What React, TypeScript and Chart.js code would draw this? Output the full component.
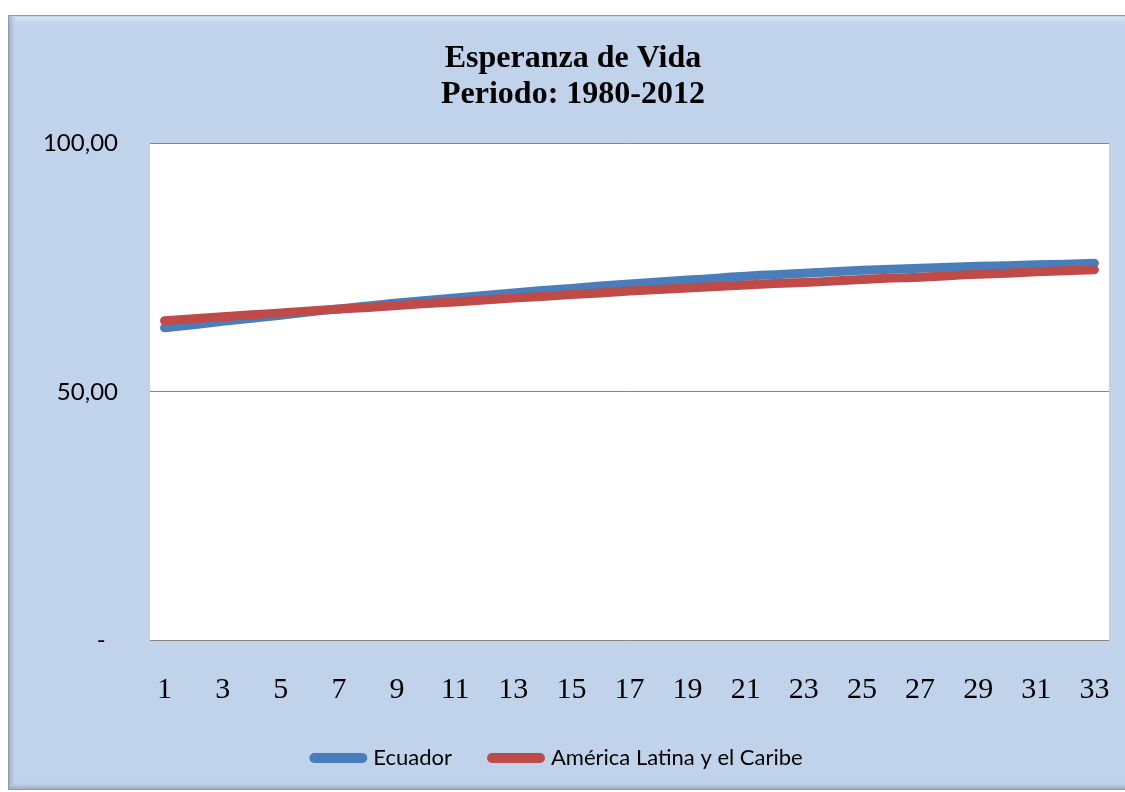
import { useEffect, useRef } from "react";
import { Chart, registerables } from "chart.js";

Chart.register(...registerables);

const categories = [
  "1", "2", "3", "4", "5", "6", "7", "8", "9", "10", "11",
  "12", "13", "14", "15", "16", "17", "18", "19", "20", "21", "22",
  "23", "24", "25", "26", "27", "28", "29", "30", "31", "32", "33",
];

const ecuador = [
  62.9, 63.5, 64.2, 64.8, 65.4, 66.1, 66.7, 67.3, 67.9, 68.4, 68.9,
  69.4, 69.9, 70.4, 70.8, 71.3, 71.7, 72.1, 72.5, 72.9, 73.3, 73.6,
  73.9, 74.2, 74.5, 74.7, 74.9, 75.1, 75.3, 75.4, 75.6, 75.7, 75.9,
];

const latinAmerica = [
  64.3, 64.7, 65.1, 65.5, 65.9, 66.3, 66.7, 67.0, 67.4, 67.8, 68.1,
  68.5, 68.9, 69.2, 69.6, 69.9, 70.3, 70.6, 70.9, 71.2, 71.5, 71.8,
  72.0, 72.3, 72.6, 72.9, 73.1, 73.4, 73.7, 73.9, 74.2, 74.4, 74.6,
];

const seriesNames = ["Ecuador", "América Latina y el Caribe"];
const seriesColors = ["#4A7EBB", "#BE4B48"];
const titleLines = ["Esperanza de Vida", "Periodo: 1980-2012"];
const yTicks = [0, 50, 100];
const yTickLabels = ["-  ", "50,00", "100,00"];

const SERIF = "'Liberation Serif', 'Times New Roman', serif";
const SANS = "Lato, 'Open Sans', sans-serif";

const framePlugin = {
  id: "frame",
  afterLayout(chart: any) {
    // the title sits over the whole (partly cropped) frame, a bit right of the legend
    if (chart.titleBlock) {
      chart.titleBlock.left += 29;
    }
  },
  beforeDraw(chart: any) {
    const { ctx, chartArea, width } = chart;
    ctx.save();
    ctx.fillStyle = "#ffffff";
    ctx.fillRect(0, 0, width, chart.height);
    const fx = 8;
    const fy = 15;
    const fr = width + 20;
    const fb = 790;
    ctx.fillStyle = "#8D99AA";
    ctx.fillRect(fx, fy, fr - fx, fb - fy);
    ctx.fillStyle = "#C0D3EA";
    ctx.fillRect(fx + 1.5, fy + 1.5, fr - fx - 3, fb - fy - 3);
    let g = ctx.createLinearGradient(0, fy + 1.5, 0, fy + 13);
    g.addColorStop(0, "#DCE8F7");
    g.addColorStop(1, "rgba(192,211,234,0)");
    ctx.fillStyle = g;
    ctx.fillRect(fx + 1.5, fy + 1.5, fr, 12);
    g = ctx.createLinearGradient(fx + 1.5, 0, fx + 9, 0);
    g.addColorStop(0, "#A4B3C6");
    g.addColorStop(1, "rgba(192,211,234,0)");
    ctx.fillStyle = g;
    ctx.fillRect(fx + 1.5, fy + 1.5, 8, fb - fy - 3);
    g = ctx.createLinearGradient(0, fb - 8, 0, fb - 1.5);
    g.addColorStop(0, "rgba(192,211,234,0)");
    g.addColorStop(1, "#9EABBC");
    ctx.fillStyle = g;
    ctx.fillRect(fx + 1.5, fb - 8, fr, 6.5);
    ctx.fillStyle = "#ffffff";
    ctx.fillRect(
      chartArea.left,
      chartArea.top,
      chartArea.right - chartArea.left,
      chartArea.bottom - chartArea.top
    );
    ctx.restore();
  },
};

export default function App() {
  const canvasRef = useRef<HTMLCanvasElement | null>(null);

  useEffect(() => {
    const canvas = canvasRef.current;
    if (!canvas) return;
    const baseLabels = (Chart as any).defaults.plugins.legend.labels.generateLabels;
    const chart = new Chart(canvas, {
      type: "line",
      data: {
        labels: categories,
        datasets: [
          {
            label: seriesNames[0],
            data: ecuador,
            borderColor: seriesColors[0],
            backgroundColor: seriesColors[0],
            borderWidth: 9,
            borderCapStyle: "round",
            borderJoinStyle: "round",
            pointRadius: 0,
            tension: 0.3,
            order: 1,
          },
          {
            label: seriesNames[1],
            data: latinAmerica,
            borderColor: seriesColors[1],
            backgroundColor: seriesColors[1],
            borderWidth: 9,
            borderCapStyle: "round",
            borderJoinStyle: "round",
            pointRadius: 0,
            tension: 0.3,
            order: 0,
          },
        ],
      },
      options: {
        animation: false,
        responsive: false,
        layout: { padding: { left: 8, right: 16, top: 0, bottom: 13 } },
        plugins: {
          title: {
            display: true,
            text: titleLines,
            color: "#000000",
            font: { family: SERIF, size: 32, weight: "bold", lineHeight: 1.15 },
            padding: { top: 40, bottom: 30 },
          },
          legend: {
            position: "bottom",
            labels: {
              usePointStyle: true,
              pointStyle: "line",
              pointStyleWidth: 48,
              color: "#000000",
              font: { family: SANS, size: 22 },
              padding: 40,
              sort: (a: any, b: any) => a.datasetIndex - b.datasetIndex,
              generateLabels: (c: any) =>
                baseLabels(c).map((l: any) => ({ ...l, lineCap: "round", lineWidth: 10 })),
            },
          },
          tooltip: { enabled: false },
        },
        scales: {
          x: {
            offset: true,
            grid: { display: false },
            border: { display: false },
            ticks: {
              autoSkip: false,
              maxRotation: 0,
              padding: 24,
              color: "#000000",
              font: { family: SERIF, size: 30 },
              callback: (_v: any, i: number) => (i % 2 === 0 ? categories[i] : ""),
            },
            afterFit: (s: any) => {
              s.height = 67;
              s.paddingLeft = 0;
              s.paddingRight = 0;
            },
          },
          y: {
            min: 0,
            max: 100,
            grid: { color: "#848484", lineWidth: 1, drawTicks: false },
            border: { display: false },
            ticks: {
              stepSize: 50,
              padding: 32,
              color: "#000000",
              font: { family: SANS, size: 24 },
              callback: (v: any) => {
                const idx = yTicks.indexOf(Number(v));
                return idx >= 0 ? yTickLabels[idx] : "";
              },
            },
            afterFit: (s: any) => {
              s.width = 142;
            },
          },
        },
      },
      plugins: [framePlugin],
    } as any);
    return () => chart.destroy();
  }, []);

  return (
    <div style={{ position: "absolute", left: 0, top: 0, width: 1125, height: 792 }}>
      <canvas ref={canvasRef} width={1125} height={792} style={{ display: "block" }} />
    </div>
  );
}
